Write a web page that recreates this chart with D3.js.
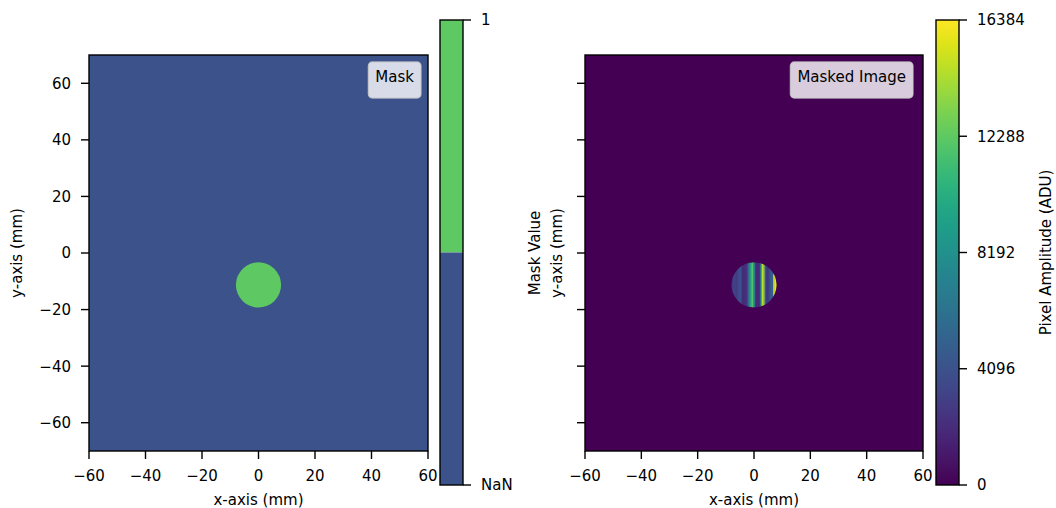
<!DOCTYPE html>
<html>
<head>
<meta charset="utf-8">
<script src="https://cdn.jsdelivr.net/npm/d3@7"></script>
<style>
  html, body { margin: 0; padding: 0; background: #ffffff; }
  svg { display: block; font-family: "DejaVu Sans", sans-serif; }
</style>
</head>
<body>
<svg id="chart" width="1056" height="508"></svg>
<script>
// ---------------- data ----------------
const xTicks = [-60, -40, -20, 0, 20, 40, 60];
const yTicks = [60, 40, 20, 0, -20, -40, -60];
const xDomain = [-60, 60];
const yDomain = [-70, 70];

const maskLevels = [0, 1];
const maskLevelLabels = ["NaN", "1"];
const maskCenterX = 0;
const maskCenterY = -11.3;
const maskRadius = 8;

const ampTicks = [0, 4096, 8192, 12288, 16384];
const ampMax = 16384;

// stripe profile across the masked aperture (x in mm, amplitude in ADU)
const stripeX = [-8, -7.5, -7, -6.5, -6, -5.5, -5, -4.5, -4, -3.5, -3, -2.5, -2, -1.5, -1, -0.5,
                 0, 0.5, 1, 1.5, 2, 2.5, 3, 3.5, 4, 4.5, 5, 5.5, 6, 6.5, 7, 7.5, 8];
const stripeAmp = [3000, 3000, 3200, 3000, 3200, 3600, 4800, 3000, 2200, 2000, 2200, 2800, 5600, 8200, 10800, 11800,
                   9000, 2600, 2000, 2000, 2400, 9000, 14600, 13800, 4500, 2800, 2800, 3400, 5200, 4800, 14000, 16000, 15000];

const leftLegend = "Mask";
const rightLegend = "Masked Image";

// ---------------- layout ----------------
const svg = d3.select("#chart");
const FS = 15;
const TICK = 8;
const SW = 1.4;

const panels = [
  { x0: 89, x1: 428 },
  { x0: 585, x1: 923 }
];
const yTop = 55, yBot = 451;

const yScale = d3.scaleLinear().domain(yDomain).range([yBot, yTop]);
const maskColor = d3.scaleOrdinal().domain(maskLevels).range([d3.interpolateViridis(0.25), d3.interpolateViridis(0.75)]);
const ampColor = v => d3.interpolateViridis(v / ampMax);

const defs = svg.append("defs");

function drawAxes(p, showYLabels, xs) {
  const g = svg.append("g");
  xTicks.forEach(t => {
    g.append("line").attr("x1", xs(t)).attr("x2", xs(t)).attr("y1", yBot).attr("y2", yBot + TICK)
      .attr("stroke", "#000").attr("stroke-width", SW);
    g.append("text").attr("x", xs(t)).attr("y", yBot + 30).attr("text-anchor", "middle")
      .attr("font-size", FS).text(String(t).replace("-", "\u2212"));
  });
  yTicks.forEach(t => {
    g.append("line").attr("x1", p.x0 - TICK).attr("x2", p.x0).attr("y1", yScale(t)).attr("y2", yScale(t))
      .attr("stroke", "#000").attr("stroke-width", SW);
    if (showYLabels) {
      g.append("text").attr("x", p.x0 - TICK - 10).attr("y", yScale(t)).attr("dy", "0.36em")
        .attr("text-anchor", "end").attr("font-size", FS).text(String(t).replace("-", "\u2212"));
    }
  });
  g.append("rect").attr("x", p.x0).attr("y", yTop).attr("width", p.x1 - p.x0).attr("height", yBot - yTop)
    .attr("fill", "none").attr("stroke", "#000").attr("stroke-width", SW);
  g.append("text").attr("x", (p.x0 + p.x1) / 2).attr("y", 505).attr("text-anchor", "middle")
    .attr("font-size", FS).text("x-axis (mm)");
}

function legend(text, xRight) {
  const g = svg.append("g");
  const t = g.append("text").attr("font-size", FS).attr("text-anchor", "end")
    .attr("x", xRight - 7).attr("y", 81.5).text(text);
  const w = t.node().getComputedTextLength();
  g.insert("rect", "text").attr("x", xRight - w - 14).attr("y", 62).attr("width", w + 14).attr("height", 36)
    .attr("rx", 4).attr("fill", "#ffffff").attr("fill-opacity", 0.8)
    .attr("stroke", "#cccccc").attr("stroke-opacity", 0.8).attr("stroke-width", 1.3);
}

// ---------------- left panel (mask) ----------------
{
  const p = panels[0];
  const xs = d3.scaleLinear().domain(xDomain).range([p.x0, p.x1]);
  svg.append("rect").attr("x", p.x0).attr("y", yTop).attr("width", p.x1 - p.x0).attr("height", yBot - yTop)
    .attr("fill", maskColor(0));
  svg.append("ellipse").attr("cx", xs(maskCenterX)).attr("cy", yScale(maskCenterY))
    .attr("rx", xs(maskRadius) - xs(0)).attr("ry", yScale(0) - yScale(maskRadius))
    .attr("fill", maskColor(1));
  drawAxes(p, true, xs);
  legend(leftLegend, 421);
  svg.append("text").attr("transform", `translate(22,${(yTop + yBot) / 2}) rotate(-90)`)
    .attr("text-anchor", "middle").attr("font-size", FS).text("y-axis (mm)");
}

// ---------------- right panel (masked image) ----------------
{
  const p = panels[1];
  const xs = d3.scaleLinear().domain(xDomain).range([p.x0, p.x1]);
  defs.append("clipPath").attr("id", "aperture").append("ellipse")
    .attr("cx", xs(maskCenterX)).attr("cy", yScale(maskCenterY))
    .attr("rx", xs(maskRadius) - xs(0)).attr("ry", yScale(0) - yScale(maskRadius));
  svg.append("rect").attr("x", p.x0).attr("y", yTop).attr("width", p.x1 - p.x0).attr("height", yBot - yTop)
    .attr("fill", ampColor(0));
  const sg = svg.append("g").attr("clip-path", "url(#aperture)");
  sg.selectAll("rect").data(stripeX).join("rect")
    .attr("x", d => xs(maskCenterX + d - 0.25))
    .attr("width", d => xs(0.5) - xs(0) + 0.4)
    .attr("y", yScale(maskCenterY + maskRadius))
    .attr("height", yScale(0) - yScale(2 * maskRadius))
    .attr("fill", (d, i) => ampColor(stripeAmp[i]));
  drawAxes(p, false, xs);
  legend(rightLegend, 913);
  svg.append("text").attr("transform", `translate(540,${(yTop + yBot) / 2}) rotate(-90)`)
    .attr("text-anchor", "middle").attr("font-size", FS).text("Mask Value");
  svg.append("text").attr("transform", `translate(562,${(yTop + yBot) / 2}) rotate(-90)`)
    .attr("text-anchor", "middle").attr("font-size", FS).text("y-axis (mm)");
}

// ---------------- colorbars ----------------
const cbTop = 20, cbBot = 485;
{
  const x0 = 440, x1 = 463;
  const cs = d3.scaleLinear().domain([0, 1]).range([cbBot, cbTop]);
  svg.append("rect").attr("x", x0).attr("y", cs(1)).attr("width", x1 - x0).attr("height", cs(0.5) - cs(1))
    .attr("fill", maskColor(1));
  svg.append("rect").attr("x", x0).attr("y", cs(0.5)).attr("width", x1 - x0).attr("height", cs(0) - cs(0.5))
    .attr("fill", maskColor(0));
  svg.append("rect").attr("x", x0).attr("y", cbTop).attr("width", x1 - x0).attr("height", cbBot - cbTop)
    .attr("fill", "none").attr("stroke", "#000").attr("stroke-width", SW);
  maskLevels.forEach((v, i) => {
    svg.append("line").attr("x1", x1).attr("x2", x1 + TICK).attr("y1", cs(v)).attr("y2", cs(v))
      .attr("stroke", "#000").attr("stroke-width", SW);
    svg.append("text").attr("x", x1 + TICK + 10).attr("y", cs(v)).attr("dy", "0.36em")
      .attr("font-size", FS).text(maskLevelLabels[i]);
  });
}
{
  const x0 = 936, x1 = 959;
  const cs = d3.scaleLinear().domain([0, ampMax]).range([cbBot, cbTop]);
  const grad = defs.append("linearGradient").attr("id", "viridisGrad")
    .attr("x1", 0).attr("y1", 1).attr("x2", 0).attr("y2", 0);
  d3.range(0, 1.0001, 0.05).forEach(t => {
    grad.append("stop").attr("offset", t).attr("stop-color", d3.interpolateViridis(t));
  });
  svg.append("rect").attr("x", x0).attr("y", cbTop).attr("width", x1 - x0).attr("height", cbBot - cbTop)
    .attr("fill", "url(#viridisGrad)").attr("stroke", "#000").attr("stroke-width", SW);
  ampTicks.forEach(v => {
    svg.append("line").attr("x1", x1).attr("x2", x1 + TICK).attr("y1", cs(v)).attr("y2", cs(v))
      .attr("stroke", "#000").attr("stroke-width", SW);
    svg.append("text").attr("x", x1 + TICK + 10).attr("y", cs(v)).attr("dy", "0.36em")
      .attr("font-size", FS).text(v);
  });
  svg.append("text").attr("transform", `translate(1051,${(cbTop + cbBot) / 2}) rotate(-90)`)
    .attr("text-anchor", "middle").attr("font-size", FS).text("Pixel Amplitude (ADU)");
}
</script>
</body>
</html>
